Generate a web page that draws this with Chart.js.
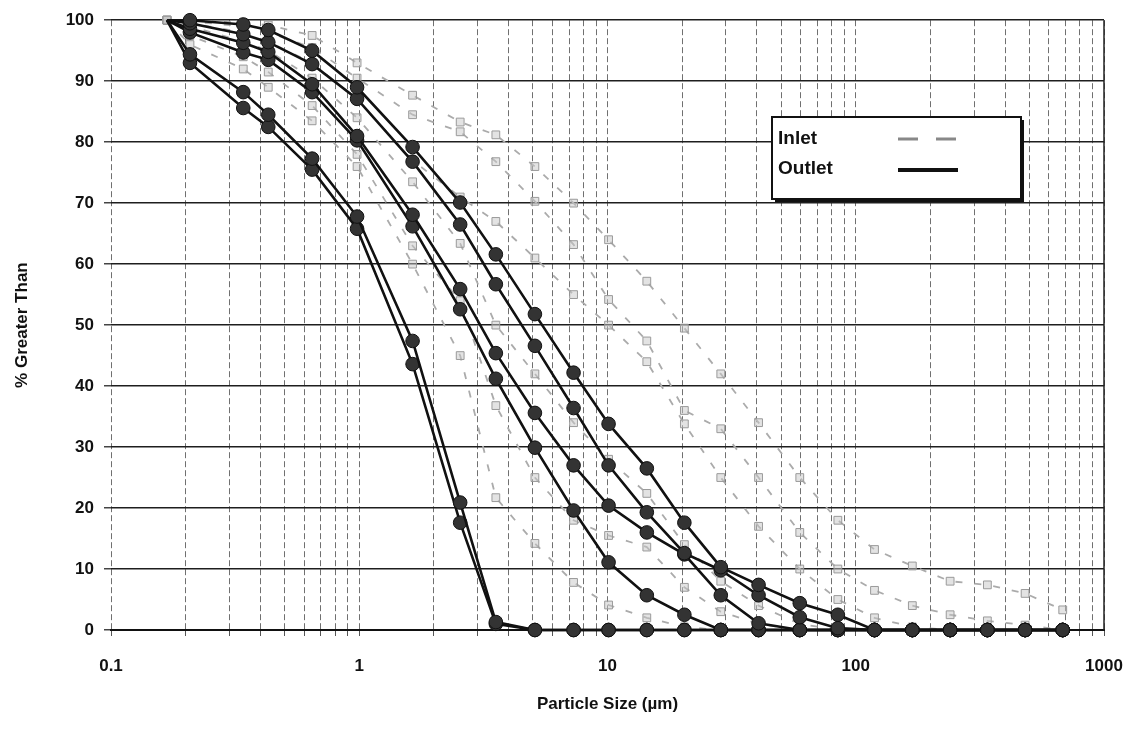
<!DOCTYPE html>
<html>
<head>
<meta charset="utf-8">
<script src="https://cdn.jsdelivr.net/npm/chart.js@4.4.1/dist/chart.umd.min.js"></script>
<style>
  html, body { margin: 0; padding: 0; background: #fff; }
  #wrap { width: 1134px; height: 732px; }
</style>
</head>
<body>
<div id="wrap"><canvas id="psd" width="1134" height="732"></canvas></div>
<script>
// particle sizes (um), same bins for every run
const sizes = [0.168, 0.208, 0.341, 0.43, 0.646, 0.98, 1.64, 2.55, 3.55, 5.1, 7.3, 10.1,
               14.4, 20.4, 28.6, 40.6, 59.5, 84.7, 119, 169, 240, 339, 481, 682];

// outlet runs (% greater than)
const outlet1 = [100, 100, 99.3, 98.4, 95.0, 89.0, 79.2, 70.1, 61.6, 51.8, 42.2, 33.8, 26.5, 17.6, 10.3, 7.4, 4.4, 2.5, 0, 0, 0, 0, 0, 0];
const outlet2 = [100, 99.5, 97.7, 96.4, 92.8, 87.1, 76.8, 66.5, 56.7, 46.6, 36.4, 27.0, 19.3, 12.6, 9.8, 5.7, 2.1, 0.3, 0, 0, 0, 0, 0, 0];
const outlet3 = [100, 98.6, 96.3, 94.8, 89.5, 81.0, 68.1, 55.9, 45.4, 35.6, 27.0, 20.4, 16.0, 12.4, 5.7, 1.1, 0, 0, 0, 0, 0, 0, 0, 0];
const outlet4 = [100, 98.0, 94.7, 93.5, 88.2, 80.3, 66.2, 52.6, 41.2, 29.9, 19.6, 11.1, 5.7, 2.5, 0, 0, 0, 0, 0, 0, 0, 0, 0, 0];
const outlet5 = [100, 94.4, 88.2, 84.5, 77.3, 67.8, 47.4, 20.9, 1.3, 0, 0, 0, 0, 0, 0, 0, 0, 0, 0, 0, 0, 0, 0, 0];
const outlet6 = [100, 93.0, 85.6, 82.5, 75.5, 65.8, 43.6, 17.6, 1.0, 0, 0, 0, 0, 0, 0, 0, 0, 0, 0, 0, 0, 0, 0, 0];

// inlet runs
const inlet1 = [100, 100, 99.6, 99.2, 97.5, 93.0, 87.7, 83.3, 81.2, 76.0, 70.0, 64.0, 57.2, 49.5, 42.0, 34.0, 25.0, 18.0, 13.2, 10.5, 8.0, 7.4, 6.0, 3.3];
const inlet2 = [100, 99.8, 99.0, 98.0, 95.5, 90.5, 84.5, 81.7, 76.8, 70.3, 63.2, 54.2, 47.4, 36.0, 33.0, 25.0, 16.0, 10.0, 6.5, 4.0, 2.5, 1.5, 0.8, 0];
const inlet3 = [100, 99.5, 98.0, 96.5, 93.0, 87.0, 77.0, 71.0, 67.0, 61.0, 55.0, 50.0, 44.0, 33.8, 25.0, 17.0, 10.0, 5.0, 2.0, 0.5, 0, 0, 0, 0];
const inlet4 = [100, 99.0, 96.5, 95.0, 90.5, 84.0, 73.5, 63.4, 50.0, 42.0, 34.0, 28.0, 22.4, 14.0, 8.0, 4.0, 1.0, 0, 0, 0, 0, 0, 0, 0];
const inlet5 = [100, 97.5, 94.0, 91.5, 86.0, 78.0, 63.0, 54.0, 36.8, 25.0, 18.0, 15.5, 13.6, 7.0, 3.0, 1.0, 0, 0, 0, 0, 0, 0, 0, 0];
const inlet6 = [100, 96.0, 92.0, 89.0, 83.5, 76.0, 60.0, 45.0, 21.7, 14.2, 7.8, 4.1, 2.0, 0.5, 0, 0, 0, 0, 0, 0, 0, 0, 0, 0];

const xTickLabels = ['0.1', '1', '10', '100', '1000'];
const yTicks = [0, 10, 20, 30, 40, 50, 60, 70, 80, 90, 100];
const legendNames = ['Inlet', 'Outlet'];

const FONT = "'Liberation Sans', Arial, Helvetica, sans-serif";
Chart.defaults.font.family = FONT;
Chart.defaults.color = '#111';

const pts = (vals) => sizes.map((s, i) => ({ x: s, y: vals[i] }));

const outletSet = (vals) => ({
    label: legendNames[1],
    data: pts(vals),
    borderColor: '#111',
    borderWidth: 2.6,
    pointStyle: 'circle',
    pointRadius: (c) => c.dataIndex === 0 ? 0 : 6.8,
    pointBackgroundColor: '#333',
    pointBorderColor: '#111',
    pointBorderWidth: 1,
    tension: 0,
    clip: 12
});

const inletSet = (vals) => ({
    label: legendNames[0],
    data: pts(vals),
    borderColor: '#ababab',
    borderWidth: 1.8,
    borderDash: [7, 12],
    pointStyle: 'rect',
    pointRadius: 5.5,
    pointBackgroundColor: 'rgba(200,200,200,0.5)',
    pointBorderColor: '#9a9a9a',
    pointBorderWidth: 1,
    tension: 0,
    clip: 12
});

// legend box + right frame edge
const frameAndLegend = {
    id: 'frameAndLegend',
    beforeDraw(chart) {
        const ctx = chart.ctx;
        ctx.save();
        ctx.fillStyle = '#fff';
        ctx.fillRect(0, 0, chart.width, chart.height);
        ctx.restore();
    },
    afterDraw(chart) {
        const ctx = chart.ctx;
        const a = chart.chartArea;
        ctx.save();
        ctx.strokeStyle = '#222';
        ctx.lineWidth = 1.5;
        ctx.beginPath();
        ctx.moveTo(a.right, a.top);
        ctx.lineTo(a.right, a.bottom);
        ctx.stroke();

        // legend
        const bx = 772, by = 117, bw = 249, bh = 82;
        ctx.fillStyle = '#111';
        ctx.fillRect(bx + 3, by + 3, bw, bh);
        ctx.fillStyle = '#fff';
        ctx.fillRect(bx, by, bw, bh);
        ctx.strokeStyle = '#111';
        ctx.lineWidth = 2;
        ctx.strokeRect(bx, by, bw, bh);

        ctx.fillStyle = '#111';
        ctx.font = 'bold 19px ' + FONT;
        ctx.textBaseline = 'middle';
        ctx.textAlign = 'left';
        ctx.fillText(legendNames[0], bx + 6, by + 22);
        ctx.fillText(legendNames[1], bx + 6, by + 52);

        ctx.strokeStyle = '#888';
        ctx.lineWidth = 3;
        ctx.setLineDash([20, 18]);
        ctx.beginPath();
        ctx.moveTo(bx + 126, by + 22);
        ctx.lineTo(bx + 186, by + 22);
        ctx.stroke();

        ctx.setLineDash([]);
        ctx.strokeStyle = '#111';
        ctx.lineWidth = 4;
        ctx.beginPath();
        ctx.moveTo(bx + 126, by + 53);
        ctx.lineTo(bx + 186, by + 53);
        ctx.stroke();
        ctx.restore();
    }
};

new Chart(document.getElementById('psd'), {
    type: 'line',
    data: {
        datasets: [
            outletSet(outlet1), outletSet(outlet2), outletSet(outlet3),
            outletSet(outlet4), outletSet(outlet5), outletSet(outlet6),
            inletSet(inlet1), inletSet(inlet2), inletSet(inlet3),
            inletSet(inlet4), inletSet(inlet5), inletSet(inlet6)
        ]
    },
    options: {
        responsive: false,
        animation: false,
        devicePixelRatio: 1,
        layout: { padding: { top: 18, right: 30, left: 0, bottom: 0 } },
        plugins: {
            legend: { display: false },
            tooltip: { enabled: false }
        },
        scales: {
            x: {
                type: 'logarithmic',
                min: 0.1,
                max: 1000,
                afterBuildTicks: (scale) => {
                    const t = [];
                    for (let e = -1; e < 3; e++) {
                        for (let m = 1; m < 10; m++) t.push({ value: m * Math.pow(10, e) });
                    }
                    t.push({ value: 1000 });
                    scale.ticks = t;
                },
                afterFit: (scale) => {
                    scale.height = 102;
                    scale.paddingRight = 0;
                    scale.paddingLeft = 0;
                },
                ticks: {
                    autoSkip: false,
                    maxRotation: 0,
                    padding: 20,
                    font: { size: 17, weight: 'bold' },
                    callback: (v) => {
                        const lg = Math.log10(v);
                        if (Math.abs(lg - Math.round(lg)) < 1e-9) return xTickLabels[Math.round(lg) + 1];
                        return '';
                    }
                },
                grid: {
                    color: '#707070',
                    lineWidth: 1,
                    tickLength: 6,
                    tickColor: '#555',
                    tickBorderDash: []
                },
                border: { color: '#111', width: 2, dash: [6, 3] },
                title: {
                    display: true,
                    text: 'Particle Size (µm)',
                    font: { size: 17, weight: 'bold' },
                    padding: { top: 0, bottom: 17 }
                }
            },
            y: {
                min: 0,
                max: 100,
                afterBuildTicks: (scale) => { scale.ticks = yTicks.map(v => ({ value: v })); },
                afterFit: (scale) => { scale.width = 111; },
                ticks: {
                    padding: 10,
                    font: { size: 17, weight: 'bold' }
                },
                grid: {
                    color: '#1e1e1e',
                    lineWidth: 1.5,
                    tickLength: 7,
                    tickColor: '#444'
                },
                border: { display: false },
                title: {
                    display: true,
                    text: '% Greater Than',
                    font: { size: 17, weight: 'bold' },
                    padding: { top: 12, bottom: 0 }
                }
            }
        }
    },
    plugins: [frameAndLegend]
});
</script>
</body>
</html>
